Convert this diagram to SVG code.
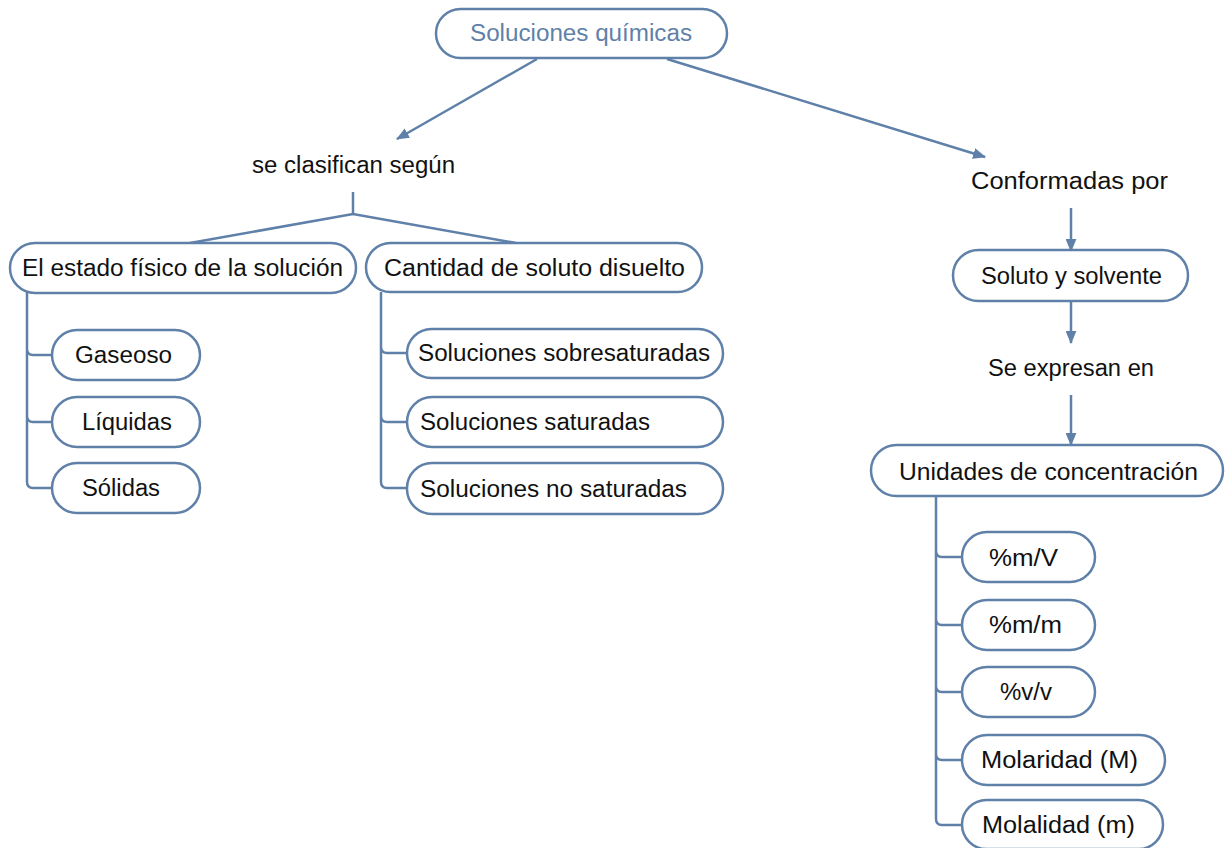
<svg xmlns="http://www.w3.org/2000/svg" width="1225" height="848" viewBox="0 0 1225 848">
<style>
.n{fill:#fff;stroke:#5f80a8;stroke-width:2.5}
.c{fill:none;stroke:#5f80a8;stroke-width:2.5}
text{font-family:"Liberation Sans",Arial,sans-serif;font-size:23px;fill:#111}
.t{fill:#5f80a8}
</style>
<defs>
<marker id="ah" viewBox="0 0 12 10" refX="11" refY="5" markerWidth="13" markerHeight="11" markerUnits="userSpaceOnUse" orient="auto">
<path d="M0,0 L12,5 L0,10 z" fill="#5f80a8"/>
</marker>
</defs>
<rect width="1225" height="848" fill="#fff"/>
<g id="connectors">
<path class="c" d="M537,59 L397,139" marker-end="url(#ah)"/>
<path class="c" d="M667,59 L985,157" marker-end="url(#ah)"/>
<path class="c" d="M1071,208 V251" marker-end="url(#ah)"/>
<path class="c" d="M1071,301 V343" marker-end="url(#ah)"/>
<path class="c" d="M1071,395 V445" marker-end="url(#ah)"/>
<path class="c" d="M353,192 V214 M190,243 L353,214 L516,243"/>
<path class="c" d="M27,292 V482 Q27,488 33,488 H52 M27,349 Q27,355 33,355 H52 M27,416 Q27,422 33,422 H52"/>
<path class="c" d="M381,292 V482 Q381,488 387,488 H407 M381,347 Q381,353 387,353 H407 M381,416 Q381,422 387,422 H407"/>
<path class="c" d="M936,497 V819 Q936,825 942,825 H962 M936,551 Q936,557 942,557 H962 M936,619 Q936,625 942,625 H962 M936,686 Q936,692 942,692 H962 M936,754 Q936,760 942,760 H962"/>
</g>
<g id="n-soluciones"><rect class="n" x="436" y="9" width="291" height="49" rx="24.5"/><text class="t" x="470" y="41" textLength="222" lengthAdjust="spacingAndGlyphs">Soluciones químicas</text></g>
<g id="l-clasifican"><text x="252" y="173" textLength="203" lengthAdjust="spacingAndGlyphs">se clasifican según</text></g>
<g id="n-estado"><rect class="n" x="10" y="243" width="346" height="50" rx="25"/><text x="22" y="276" textLength="321" lengthAdjust="spacingAndGlyphs">El estado físico de la solución</text></g>
<g id="n-cantidad"><rect class="n" x="366" y="243" width="336" height="49" rx="24.5"/><text x="384" y="276" textLength="301" lengthAdjust="spacingAndGlyphs">Cantidad de soluto disuelto</text></g>
<g id="n-gaseoso"><rect class="n" x="52" y="330" width="148" height="50" rx="25"/><text x="75" y="363" textLength="97" lengthAdjust="spacingAndGlyphs">Gaseoso</text></g>
<g id="n-liquidas"><rect class="n" x="52" y="397" width="148" height="50" rx="25"/><text x="82" y="430" textLength="90" lengthAdjust="spacingAndGlyphs">Líquidas</text></g>
<g id="n-solidas"><rect class="n" x="52" y="463" width="148" height="50" rx="25"/><text x="82" y="496" textLength="78" lengthAdjust="spacingAndGlyphs">Sólidas</text></g>
<g id="n-sobresaturadas"><rect class="n" x="407" y="329" width="316" height="49" rx="24.5"/><text x="418" y="361" textLength="292" lengthAdjust="spacingAndGlyphs">Soluciones sobresaturadas</text></g>
<g id="n-saturadas"><rect class="n" x="407" y="397" width="316" height="50" rx="25"/><text x="420" y="430" textLength="230" lengthAdjust="spacingAndGlyphs">Soluciones saturadas</text></g>
<g id="n-nosaturadas"><rect class="n" x="407" y="463" width="316" height="51" rx="25"/><text x="420" y="497" textLength="267" lengthAdjust="spacingAndGlyphs">Soluciones no saturadas</text></g>
<g id="l-conformadas"><text x="971" y="189" textLength="197" lengthAdjust="spacingAndGlyphs">Conformadas por</text></g>
<g id="n-soluto"><rect class="n" x="953" y="250" width="235" height="51" rx="25.5"/><text x="981" y="284" textLength="181" lengthAdjust="spacingAndGlyphs">Soluto y solvente</text></g>
<g id="l-expresan"><text x="988" y="376" textLength="166" lengthAdjust="spacingAndGlyphs">Se expresan en</text></g>
<g id="n-unidades"><rect class="n" x="871" y="445" width="352" height="51" rx="25.5"/><text x="899" y="480" textLength="299" lengthAdjust="spacingAndGlyphs">Unidades de concentración</text></g>
<g id="n-mV"><rect class="n" x="962" y="532" width="133" height="50" rx="25"/><text x="989" y="566" textLength="69" lengthAdjust="spacingAndGlyphs">%m/V</text></g>
<g id="n-mm"><rect class="n" x="962" y="600" width="133" height="50" rx="25"/><text x="989" y="633" textLength="73" lengthAdjust="spacingAndGlyphs">%m/m</text></g>
<g id="n-vv"><rect class="n" x="962" y="667" width="133" height="50" rx="25"/><text x="1000" y="700" textLength="52" lengthAdjust="spacingAndGlyphs">%v/v</text></g>
<g id="n-molaridad"><rect class="n" x="962" y="735" width="203" height="50" rx="25"/><text x="981" y="768" textLength="157" lengthAdjust="spacingAndGlyphs">Molaridad (M)</text></g>
<g id="n-molalidad"><rect class="n" x="962" y="800" width="201" height="49" rx="24.5"/><text x="982" y="833" textLength="153" lengthAdjust="spacingAndGlyphs">Molalidad (m)</text></g>
</svg>
